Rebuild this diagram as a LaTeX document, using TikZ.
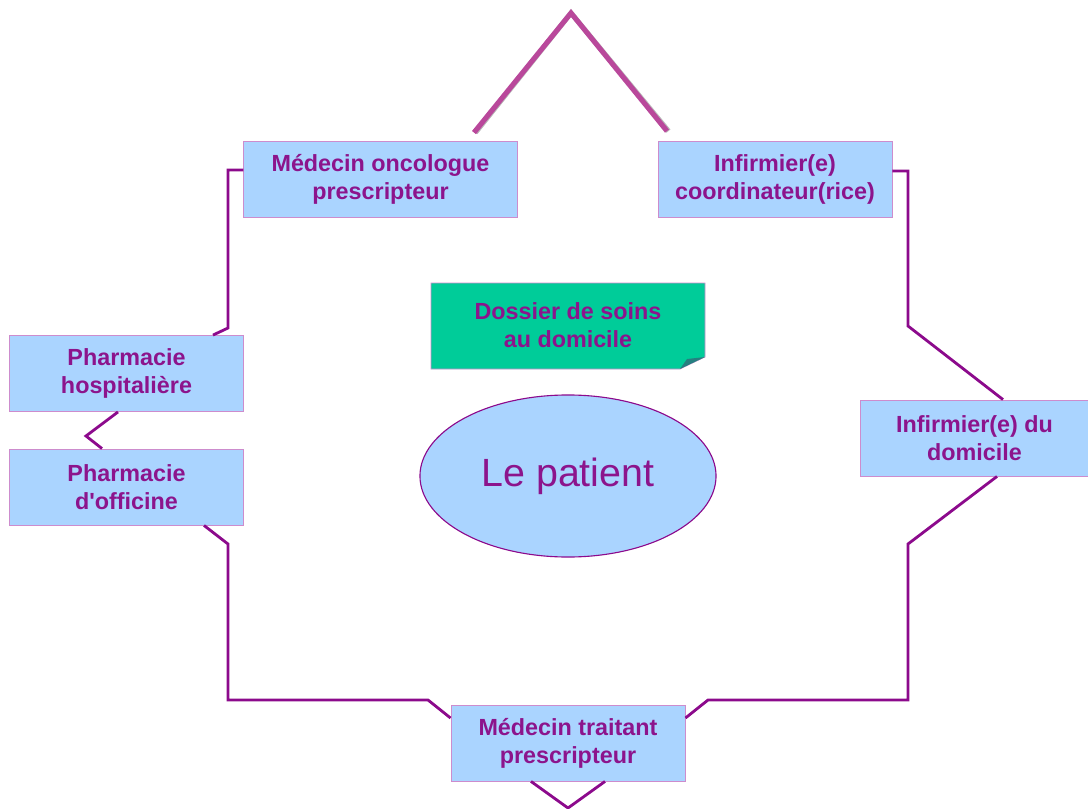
\documentclass[tikz,border=0pt]{standalone}
\usepackage{fontspec}
\setmainfont{Liberation Sans}
\usetikzlibrary{shapes.geometric,calc}
\definecolor{texteviolet}{RGB}{140,20,140}
\definecolor{traitviolet}{RGB}{140,10,140}
\definecolor{traitrose}{RGB}{185,72,155}
\definecolor{bleuboite}{RGB}{170,212,255}
\definecolor{bordrose}{RGB}{205,140,205}
\definecolor{vertdossier}{RGB}{0,204,153}
\begin{document}
\begin{tikzpicture}[x=0.025cm,y=-0.025cm,
    boite/.style={draw=bordrose,line width=0.6pt,fill=bleuboite,text=texteviolet,align=center,
        font=\bfseries\fontsize{16.6}{20}\selectfont,inner sep=0pt,minimum height=1.9cm},
    lien/.style={draw=traitviolet,line width=2pt,line join=miter}]
    \useasboundingbox (0,0) rectangle (1088,809);
    \node[boite,minimum width=6.83cm] (onco) at (380.5,179) {Médecin oncologue\\prescripteur};
    \node[boite,minimum width=5.85cm] (coord) at (775,179.5) {Infirmier(e)\\coordinateur(rice)};
    \node[boite,minimum width=5.83cm] (hosp) at (126.5,373.5) {Pharmacie\\hospitalière};
    \node[boite,minimum width=5.83cm] (offic) at (126.5,487) {Pharmacie\\d\textquotesingle officine};
    \node[boite,minimum width=5.68cm] (domicile) at (974.5,438) {Infirmier(e) du\\domicile};
    \node[boite,minimum width=5.85cm] (traitant) at (568,743) {Médecin traitant\\prescripteur};
    \node[ellipse,draw=traitviolet,line width=0.8pt,fill=bleuboite,text=texteviolet,inner sep=0pt,
        minimum width=7.4cm,minimum height=4.05cm,font=\fontsize{28}{32}\selectfont] (patient) at (568,476) {Le patient};
    \fill[vertdossier] (568,326) ++(-137,-43) -- ++(274,0) -- ++(0,74) -- ++(-25,12) -- ++(-249,0) -- cycle;
    \draw[bordrose,line width=0.5pt] (568,326) ++(-137,-43) -- ++(274,0) -- ++(0,74) -- ++(-25,12) -- ++(-249,0) -- cycle;
    \fill[teal!70!gray] (705,357) -- (680,369) -- (687,359) -- cycle;
    \node[text=texteviolet,align=center,font=\bfseries\fontsize{16.6}{20}\selectfont,
        minimum width=6.85cm,minimum height=2.15cm] (dossier) at (568,325) {Dossier de soins\\au domicile};
    \coordinate (sommet) at (571,13);
    \begin{scope}[shift={(1.5,1.5)}]
        \draw[gray!55,line width=3.6pt] ($(onco.north -| 474,0)+(0,-8)$) -- (sommet) -- ($(coord.north -| 667,0)+(0,-10)$);
    \end{scope}
    \draw[traitrose,line width=3.6pt] ($(onco.north -| 474,0)+(0,-8)$) -- (sommet) -- ($(coord.north -| 667,0)+(0,-10)$);
    \draw[lien] (onco.west |- 0,170) -- (228,170) -- (228,328) -- (hosp.north -| 213,0);
    \draw[lien] (hosp.south -| 118,0) -- (86,436) -- (offic.north -| 102,0);
    \draw[lien] (offic.south -| 204,0) -- (228,544) -- (228,700) -- (428,700) -- (traitant.west |- 0,718);
    \draw[lien] (traitant.east |- 0,718) -- (708,700) -- (908,700) -- (908,544) -- (domicile.south -| 997,0);
    \draw[lien] (coord.east |- 0,171) -- (908,171) -- (908,326) -- (domicile.north -| 1003,0);
    \draw[lien] (traitant.south -| 531,0) -- (568,808) -- (traitant.south -| 605,0);
\end{tikzpicture}
\end{document}
